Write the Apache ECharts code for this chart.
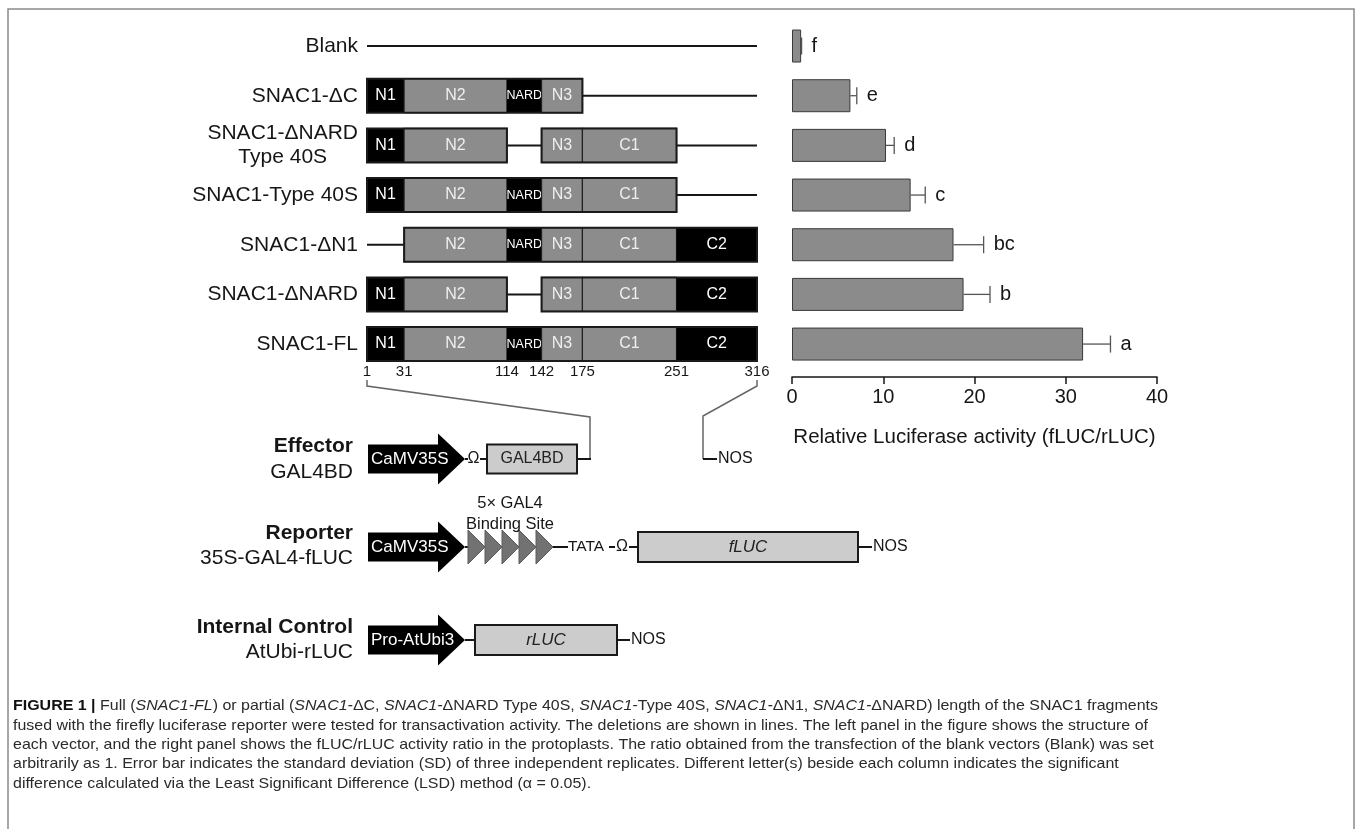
<!DOCTYPE html>
<html><head><meta charset="utf-8">
<script src="https://cdn.jsdelivr.net/npm/echarts@6/dist/echarts.min.js"></script>
<style>html,body{margin:0;padding:0;background:#fff}#c{width:1357px;height:829px}</style>
</head><body><div id="c"></div>
<script>
// ---------------- data ----------------
const constructs = ['Blank','SNAC1-ΔC','SNAC1-ΔNARD\nType 40S','SNAC1-Type 40S','SNAC1-ΔN1','SNAC1-ΔNARD','SNAC1-FL'];
const activity   = [1.0, 6.4, 10.3, 13.0, 17.7, 18.8, 31.9];
const activitySD = [0.05, 0.7, 0.9, 1.6, 3.3, 2.9, 3.0];
const letters    = ['f','e','d','c','bc','b','a'];
const activityTicks = [0, 10, 20, 30, 40];
const domainNames = ['N1','N2','NARD','N3','C1','C2'];
const domainStart = [1, 31, 114, 142, 175, 251];
const domainEnd   = [31, 114, 142, 175, 251, 316];
const positionTicks = [1, 31, 114, 142, 175, 251, 316];
const domainKept = [[], [0,1,2,3], [0,1,3,4], [0,1,2,3,4], [1,2,3,4,5], [0,1,3,4,5], [0,1,2,3,4,5]];
const captionLines = [
  '{b|FIGURE 1 | }{r|Full (}{i|SNAC1-FL}{r|) or partial (}{i|SNAC1-}{r|ΔC, }{i|SNAC1-}{r|ΔNARD Type 40S, }{i|SNAC1}{r|-Type 40S, }{i|SNAC1-}{r|ΔN1, }{i|SNAC1-}{r|ΔNARD) length of the SNAC1 fragments}',
  '{r|fused with the firefly luciferase reporter were tested for transactivation activity. The deletions are shown in lines. The left panel in the figure shows the structure of}',
  '{r|each vector, and the right panel shows the fLUC/rLUC activity ratio in the protoplasts. The ratio obtained from the transfection of the blank vectors (Blank) was set}',
  '{r|arbitrarily as 1. Error bar indicates the standard deviation (SD) of three independent replicates. Different letter(s) beside each column indicates the significant}',
  '{r|difference calculated via the Least Significant Difference (LSD) method (α = 0.05).}'
];

// ---------------- style ----------------
const FONT = '"Liberation Sans", Arial, sans-serif';
const DARK_DOMAINS = new Set(['N1','NARD','C2']);
const INK = '#161616';
function f(size, weight, style){ return `${style||'normal'} ${weight||'normal'} ${size}px ${FONT}`; }

function renderConstruct(params, api) {
  const row = api.value(1);
  const y = api.coord([positionTicks[0], row])[1];
  const xOf = aa => api.coord([aa, row])[0];
  const H = 34;
  const ch = [];
  ch.push({type:'line', shape:{x1:xOf(positionTicks[0]), y1:y, x2:xOf(positionTicks[positionTicks.length-1]), y2:y}, style:{stroke:INK, lineWidth:2}});
  const kept = domainKept[row];
  // runs of contiguous domains
  const runs = [];
  kept.forEach(d => {
    const last = runs[runs.length-1];
    if (last && last[1] === d - 1) last[1] = d; else runs.push([d, d]);
  });
  kept.forEach(d => {
    const x0 = xOf(domainStart[d]), x1 = xOf(domainEnd[d]);
    const dark = DARK_DOMAINS.has(domainNames[d]);
    ch.push({type:'rect', shape:{x:x0, y:y-H/2, width:x1-x0, height:H}, style:{fill: dark ? '#000' : '#8c8c8c', stroke: dark ? null : '#222', lineWidth:1.2}});
    const small = domainNames[d] === 'NARD';
    ch.push({type:'text', style:{text:domainNames[d], x:(x0+x1)/2, y:y, align:'center', verticalAlign:'middle', textAlign:'center', textVerticalAlign:'middle', fill: dark ? '#fff' : '#efefef', font: f(small ? 12.5 : 16)}});
  });
  runs.forEach(r => {
    const x0 = xOf(domainStart[r[0]]), x1 = xOf(domainEnd[r[1]]);
    ch.push({type:'rect', shape:{x:x0, y:y-H/2, width:x1-x0, height:H}, style:{fill:null, stroke:'#1a1a1a', lineWidth:2}});
  });
  if (row === constructs.length - 1) {
    positionTicks.forEach(p => {
      ch.push({type:'text', style:{text:String(p), x:xOf(p), y:y+28, align:'center', verticalAlign:'middle', textAlign:'center', textVerticalAlign:'middle', fill:INK, font:f(15)}});
    });
  }
  return {type:'group', children:ch};
}

function renderError(params, api) {
  const i = api.value(0), v = api.value(1), s = api.value(2);
  const p0 = api.coord([v, i]), p1 = api.coord([v + s, i]);
  return {type:'group', children:[
    {type:'line', shape:{x1:p0[0], y1:p0[1], x2:p1[0], y2:p1[1]}, style:{stroke:'#555', lineWidth:1.3}},
    {type:'line', shape:{x1:p1[0], y1:p1[1]-8.5, x2:p1[0], y2:p1[1]+8.5}, style:{stroke:'#555', lineWidth:1.3}},
    {type:'text', style:{text:letters[params.dataIndex], x:p1[0]+10, y:p1[1], align:'left', verticalAlign:'middle', textAlign:'left', textVerticalAlign:'middle', fill:INK, font:f(20)}}
  ]};
}

const option = {
  animation:false,
  textStyle:{fontFamily:FONT},
  grid:[
    {left:792, width:365, top:21.2, height:347.7},
    {left:367, width:390, top:21.2, height:347.7}
  ],
  xAxis:[
    {gridIndex:0, type:'value', min:activityTicks[0], max:activityTicks[activityTicks.length-1], interval:activityTicks[1]-activityTicks[0], offset:8,
     axisLine:{show:true, lineStyle:{color:INK, width:1.5}}, axisTick:{show:true, length:7, lineStyle:{color:INK, width:1.5}},
     axisLabel:{fontSize:20, color:INK, margin:11, fontFamily:FONT}, splitLine:{show:false},
     name:'Relative Luciferase activity (fLUC/rLUC)', nameLocation:'middle', nameGap:50, nameTextStyle:{fontSize:20.5, color:INK, fontFamily:FONT}},
    {gridIndex:1, type:'value', min:positionTicks[0], max:positionTicks[positionTicks.length-1], show:false}
  ],
  yAxis:[
    {gridIndex:0, type:'category', data:constructs, inverse:true, show:false},
    {gridIndex:1, type:'category', data:constructs, inverse:true, axisLine:{show:false}, axisTick:{show:false}, splitLine:{show:false},
     axisLabel:{interval:0, margin:9, fontSize:21, color:INK, fontFamily:FONT, align:'right',
       formatter: v => v.indexOf('\n') >= 0 ? v.split('\n').map(s => '{c|' + s + '}').join('\n') : v,
       rich:{c:{fontSize:21, lineHeight:24, align:'center', color:INK, fontFamily:FONT}}}}
  ],
  series:[
    {type:'bar', xAxisIndex:0, yAxisIndex:0, data:activity, barWidth:33, itemStyle:{color:'#8b8b8b', borderColor:'#3a3a3a', borderWidth:1}},
    {type:'custom', xAxisIndex:0, yAxisIndex:0, data:activity.map((v,i) => [i, v, activitySD[i]]), encode:{y:0, x:1}, renderItem:renderError, z:5},
    {type:'custom', xAxisIndex:1, yAxisIndex:1, data:constructs.map((c,i) => [positionTicks[0], i]), encode:{x:0, y:1}, renderItem:renderConstruct, clip:false}
  ]
};

const chart = echarts.init(document.getElementById('c'));
chart.setOption(option);

// ---------------- schematic (vectors) + caption ----------------
const G = [];
function T(x, y, text, size, o) {
  o = o || {};
  G.push({type:'text', x:x, y:y, z:20, style:{text:text, fill:o.fill||INK, font:f(size, o.weight, o.style), align:o.align||'left', textAlign:o.align||'left', verticalAlign:'middle', textVerticalAlign:'middle'}});
}
function L(x1, y1, x2, y2, c, w) { G.push({type:'line', z:20, shape:{x1,y1,x2,y2}, style:{stroke:c||INK, lineWidth:w||2}}); }
function arrow(x0, cy, label) {
  G.push({type:'polygon', z:20, shape:{points:[[x0,cy-14.5],[x0+70,cy-14.5],[x0+70,cy-25.5],[x0+97,cy],[x0+70,cy+25.5],[x0+70,cy+14.5],[x0,cy+14.5]]}, style:{fill:'#000'}});
  T(x0+3, cy, label, 17, {fill:'#fff'});
}
function box(x0, x1, cy, h, label, italic) {
  G.push({type:'rect', z:20, shape:{x:x0, y:cy-h/2, width:x1-x0, height:h}, style:{fill:'#cccccc', stroke:'#1a1a1a', lineWidth:2}});
  T((x0+x1)/2, cy, label, italic ? 17 : 16, {align:'center', style: italic ? 'italic' : 'normal', fill:'#222'});
}

// Effector
let cy = 459;
T(353, 446, 'Effector', 21, {weight:'bold', align:'right'});
T(353, 472, 'GAL4BD', 21, {align:'right'});
arrow(368, cy, 'CaMV35S');
L(465, cy, 468, cy); T(473.5, cy, 'Ω', 16, {align:'center'}); L(480, cy, 487, cy);
box(487, 577, cy, 29, 'GAL4BD', false);
L(577, cy, 591, cy);
// connectors from the full-length construct
const pStart = chart.convertToPixel({gridIndex:1}, [positionTicks[0], constructs.length-1]);
const pEnd = chart.convertToPixel({gridIndex:1}, [positionTicks[positionTicks.length-1], constructs.length-1]);
G.push({type:'polyline', z:19, shape:{points:[[pStart[0],380],[pStart[0],386],[590,417],[590,cy]]}, style:{stroke:'#666', lineWidth:1.5, fill:null}});
G.push({type:'polyline', z:19, shape:{points:[[pEnd[0],380],[pEnd[0],386],[703,416],[703,cy]]}, style:{stroke:'#666', lineWidth:1.5, fill:null}});
L(703, cy, 717, cy); T(718, cy, 'NOS', 16);

// Reporter
cy = 547;
T(353, 533, 'Reporter', 21, {weight:'bold', align:'right'});
T(353, 558, '35S-GAL4-fLUC', 21, {align:'right'});
arrow(368, cy, 'CaMV35S');
L(465, cy, 469, cy);
for (let k = 0; k < 5; k++) {
  const x = 468 + 17*k;
  G.push({type:'polygon', z:20, shape:{points:[[x,cy-17],[x+17,cy],[x,cy+17]]}, style:{fill:'#727272', stroke:'#5a5a5a', lineWidth:1}});
}
T(510, 503, '5× GAL4', 16.5, {align:'center'});
T(510, 524, 'Binding Site', 16.5, {align:'center'});
L(553, cy, 568, cy);
T(568, cy, 'TATA', 15.5);
L(609, cy, 615, cy); T(622, cy, 'Ω', 16, {align:'center'}); L(629, cy, 638, cy);
box(638, 858, cy, 30, 'fLUC', true);
L(858, cy, 872, cy); T(873, cy, 'NOS', 16);

// Internal control
cy = 640;
T(353, 627, 'Internal Control', 21, {weight:'bold', align:'right'});
T(353, 652, 'AtUbi-rLUC', 21, {align:'right'});
arrow(368, cy, 'Pro-AtUbi3');
L(465, cy, 475, cy);
box(475, 617, cy, 30, 'rLUC', true);
L(617, cy, 630, cy); T(631, cy, 'NOS', 16);

// frame
G.push({type:'rect', z:1, shape:{x:8, y:9, width:1346, height:840}, style:{fill:null, stroke:'#8a8a8a', lineWidth:1.5}});

// caption (condensed to the reference's line width)
const mctx = document.createElement('canvas').getContext('2d');
mctx.font = f(15);
const plain2 = captionLines[1].replace(/\{r\||\}/g, '');
const capScale = 1135 / mctx.measureText(plain2).width;
const CAPC = '#2a2a2a';
captionLines.forEach((line, k) => {
  G.push({type:'text', x:13, y:706 + 19.4*k, scaleX:capScale, z:20, style:{text:line, align:'left', textAlign:'left', verticalAlign:'middle', textVerticalAlign:'middle', fill:CAPC, font:f(15),
    rich:{
      r:{font:f(15), fill:CAPC},
      i:{font:f(15, 'normal', 'italic'), fill:CAPC},
      b:{font:f(15, 'bold'), fill:'#111'}
    }}});
});

chart.setOption({graphic:{elements:G}});
</script>
</body></html>
